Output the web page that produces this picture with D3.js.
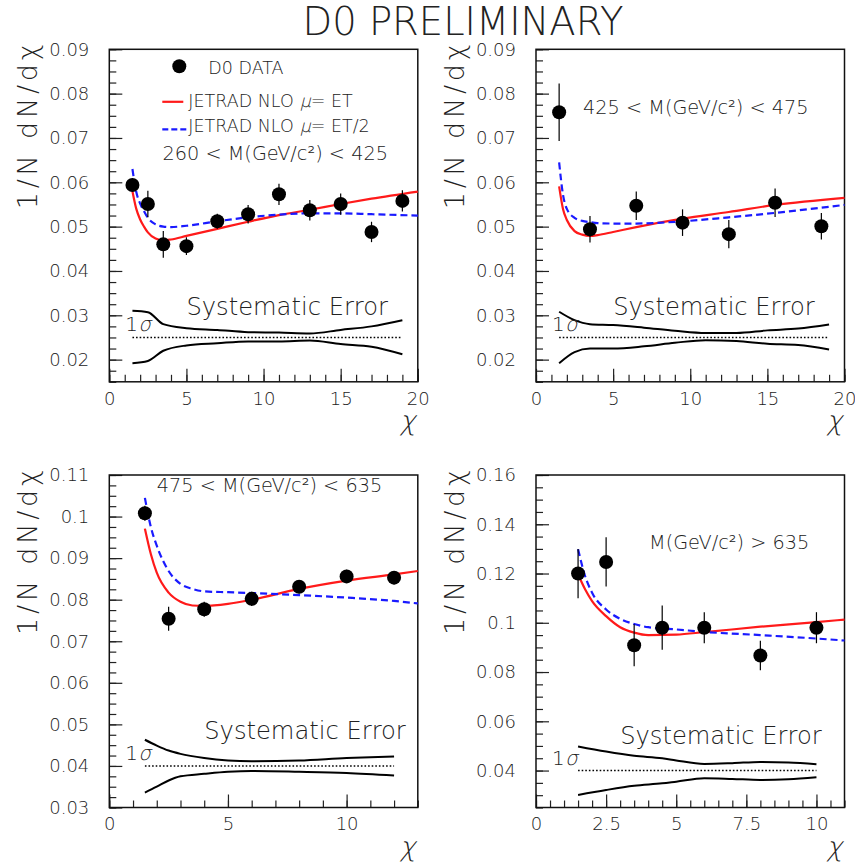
<!DOCTYPE html>
<html>
<head>
<meta charset="utf-8">
<script src="https://cdn.jsdelivr.net/npm/d3@7"></script>
<style>
  body { margin: 0; background: #fff; }
  text { font-family: "DejaVu Sans", "Liberation Sans", sans-serif; font-weight: 200; fill: #222; }
</style>
</head>
<body>
<div id="graph"></div>
<script>
// chart size
const width = 855;
const height = 867;

// ---- data: 260 < M < 425
const chi1 = [1.5, 2.5, 3.5, 5, 7, 9, 11, 13, 15, 17, 19];
const val1 = [0.0594, 0.0551, 0.0460, 0.0456, 0.0512, 0.0528, 0.0573, 0.0537, 0.0551, 0.0488, 0.0558];
const err1 = [0.0015, 0.0030, 0.0030, 0.0020, 0.0017, 0.0021, 0.0024, 0.0023, 0.0024, 0.0023, 0.0024];
const nloChi1 = [1.5, 1.75, 2, 2.25, 2.5, 3, 3.5, 4, 5, 7, 9, 11, 13, 15, 17, 20];
const nloEt1 = [0.0580, 0.0540, 0.0516, 0.0500, 0.0487, 0.0473, 0.0469, 0.0471, 0.0479, 0.0495, 0.0511, 0.0526, 0.0538, 0.0551, 0.0563, 0.0579];
const nloHalf1 = [0.0630, 0.0578, 0.0552, 0.0535, 0.0520, 0.0505, 0.0500, 0.0499, 0.0502, 0.0512, 0.0521, 0.0527, 0.0530, 0.0530, 0.0528, 0.0525];
const sysChi1 = [1.5, 2.5, 3.5, 5, 7, 9, 11, 13, 15, 17, 19];
const sysHi1 = [0.0310, 0.0307, 0.0280, 0.0271, 0.0267, 0.0262, 0.0261, 0.0259, 0.0267, 0.0275, 0.0289];
const sysLo1 = [0.0192, 0.0197, 0.0220, 0.0232, 0.0237, 0.0241, 0.0241, 0.0243, 0.0235, 0.0229, 0.0212];

// ---- data: 425 < M < 475
const chi2 = [1.5, 3.5, 6.5, 9.5, 12.5, 15.5, 18.5];
const val2 = [0.0758, 0.0494, 0.0547, 0.0509, 0.0483, 0.0554, 0.0501];
const err2 = [0.0065, 0.0030, 0.0032, 0.0030, 0.0032, 0.0032, 0.0030];
const nloChi2 = [1.5, 1.75, 2, 2.5, 3, 3.5, 4, 5, 6.5, 9.5, 12.5, 15.5, 20];
const nloEt2 = [0.0591, 0.0540, 0.0515, 0.0490, 0.0482, 0.0479, 0.0481, 0.0488, 0.0499, 0.0518, 0.0533, 0.0549, 0.0565];
const nloHalf2 = [0.0645, 0.0572, 0.0540, 0.0520, 0.0513, 0.0510, 0.0508, 0.0507, 0.0507, 0.0512, 0.0521, 0.0531, 0.0549];
const sysChi2 = [1.5, 2.5, 3.5, 5, 7, 9, 11, 13, 15, 17, 19];
const sysHi2 = [0.0308, 0.0289, 0.0280, 0.0278, 0.0272, 0.0265, 0.0260, 0.0260, 0.0266, 0.0270, 0.0279];
const sysLo2 = [0.0192, 0.0217, 0.0225, 0.0225, 0.0230, 0.0238, 0.0244, 0.0242, 0.0236, 0.0233, 0.0223];

// ---- data: 475 < M < 635
const chi3 = [1.5, 2.5, 4, 6, 8, 10, 12];
const val3 = [0.1008, 0.0754, 0.0777, 0.0802, 0.0831, 0.0856, 0.0853];
const err3 = [0.0018, 0.0029, 0.0018, 0.0017, 0.0016, 0.0016, 0.0016];
const nloChi3 = [1.5, 1.75, 2, 2.5, 3, 3.5, 4, 5, 6, 8, 10, 12, 13];
const nloEt3 = [0.0971, 0.0910, 0.0865, 0.0817, 0.0795, 0.0786, 0.0785, 0.0790, 0.0800, 0.0826, 0.0846, 0.0861, 0.0869];
const nloHalf3 = [0.1045, 0.0975, 0.0930, 0.0869, 0.0838, 0.0826, 0.0820, 0.0818, 0.0816, 0.0811, 0.0805, 0.0797, 0.0791];
const sysChi3 = [1.5, 2, 2.5, 3, 4, 5, 6, 8, 10, 12];
const sysHi3 = [0.0463, 0.0449, 0.0437, 0.0429, 0.0419, 0.0413, 0.0411, 0.0413, 0.0419, 0.0423];
const sysLo3 = [0.0336, 0.0350, 0.0365, 0.0375, 0.0381, 0.0386, 0.0388, 0.0386, 0.0383, 0.0377];

// ---- data: M > 635
const chi4 = [1.5, 2.5, 3.5, 4.5, 6, 8, 10];
const val4 = [0.1200, 0.1247, 0.0909, 0.0980, 0.0980, 0.0867, 0.0980];
const err4 = [0.0100, 0.0100, 0.0085, 0.0090, 0.0063, 0.0060, 0.0063];
const nloChi4 = [1.5, 1.75, 2, 2.5, 3, 3.5, 4, 5, 6, 8, 10, 11];
const nloEt4 = [0.1197, 0.1136, 0.1088, 0.1027, 0.0982, 0.0960, 0.0950, 0.0952, 0.0962, 0.0984, 0.1003, 0.1013];
const nloHalf4 = [0.1299, 0.1190, 0.1122, 0.1054, 0.1016, 0.0995, 0.0982, 0.0973, 0.0963, 0.0950, 0.0936, 0.0928];
const sysChi4 = [1.5, 2.5, 3.5, 4.5, 5, 6, 7, 8, 9, 10];
const sysHi4 = [0.0498, 0.0477, 0.0460, 0.0450, 0.0441, 0.0427, 0.0430, 0.0435, 0.0433, 0.0426];
const sysLo4 = [0.0301, 0.0321, 0.0338, 0.0348, 0.0355, 0.0369, 0.0366, 0.0362, 0.0365, 0.0373];

// mass bin labels and 1 sigma reference
const massLabels = ["260 < M(GeV/c²) < 425", "425 < M(GeV/c²) < 475", "475 < M(GeV/c²) < 635", "M(GeV/c²) > 635"];
const sigmaRef = [0.025, 0.025, 0.04, 0.04];

// axes per panel
const xDomains = [[0, 20], [0, 20], [0, 13], [0, 11]];
const yDomains = [[0.015, 0.09], [0.015, 0.09], [0.03, 0.11], [0.025, 0.16]];
const xMajor = [[0, 5, 10, 15, 20], [0, 5, 10, 15, 20], [0, 5, 10], [0, 2.5, 5, 7.5, 10]];
const xMinorStep = [1, 1, 1, 0.5];
const yMajor = [
    [0.02, 0.03, 0.04, 0.05, 0.06, 0.07, 0.08, 0.09],
    [0.02, 0.03, 0.04, 0.05, 0.06, 0.07, 0.08, 0.09],
    [0.03, 0.04, 0.05, 0.06, 0.07, 0.08, 0.09, 0.1, 0.11],
    [0.04, 0.06, 0.08, 0.1, 0.12, 0.14, 0.16]];
const yMinorStep = [0.0025, 0.0025, 0.0025, 0.005];

const panels = [
    {chi: chi1, val: val1, err: err1, nloChi: nloChi1, et: nloEt1, half: nloHalf1, sysChi: sysChi1, hi: sysHi1, lo: sysLo1},
    {chi: chi2, val: val2, err: err2, nloChi: nloChi2, et: nloEt2, half: nloHalf2, sysChi: sysChi2, hi: sysHi2, lo: sysLo2},
    {chi: chi3, val: val3, err: err3, nloChi: nloChi3, et: nloEt3, half: nloHalf3, sysChi: sysChi3, hi: sysHi3, lo: sysLo3},
    {chi: chi4, val: val4, err: err4, nloChi: nloChi4, et: nloEt4, half: nloHalf4, sysChi: sysChi4, hi: sysHi4, lo: sysLo4}
];

// layout (pixels)
const frames = [
    {x: 109.3, y: 49.3}, {x: 536, y: 49.3},
    {x: 109.3, y: 475}, {x: 536, y: 475}
];
const fw = 308.5, fh = 332.5;
// text anchors in data units: [chi, value]
const massPos = [[3.45, null], [3.05, 0.0755], [2.0, 0.1060], [4.03, 0.1300]];
const sysPos = [[5, 0.0300], [5, 0.0300], [4, 0.0465], [3, 0.0508]];

var svg = d3.select("#graph").append("svg")
    .attr("width", width).attr("height", height);

svg.append("text")
    .attr("x", 463).attr("y", 35)
    .attr("text-anchor", "middle")
    .style("font-size", "38.5px")
    .text("D0 PRELIMINARY");

function fmt(d) {
    return String(+d.toFixed(4));
}

// slanted glyph (the light face has no italic)
function slanted(sel, x, y, size, txt) {
    return sel.append("text")
        .attr("transform", "translate(" + x + "," + y + ") skewX(-14)")
        .style("font-size", size + "px")
        .text(txt);
}

panels.forEach(function (p, i) {
    var f = frames[i];
    var g = svg.append("g").attr("transform", "translate(" + f.x + "," + f.y + ")");
    var x = d3.scaleLinear().domain(xDomains[i]).range([0, fw]);
    var y = d3.scaleLinear().domain(yDomains[i]).range([fh, 0]);

    var xMinor = d3.range(xDomains[i][0], xDomains[i][1] + 1e-9, xMinorStep[i]);
    var yMinor = d3.range(yDomains[i][0], yDomains[i][1] + 1e-9, yMinorStep[i]);

    // minor ticks
    g.append("g").attr("transform", "translate(0," + fh + ")")
        .call(d3.axisBottom(x).tickValues(xMinor).tickSizeInner(-7).tickSizeOuter(0).tickFormat(""))
        .call(s => s.select(".domain").remove());
    g.append("g")
        .call(d3.axisLeft(y).tickValues(yMinor).tickSizeInner(-7).tickSizeOuter(0).tickFormat(""))
        .call(s => s.select(".domain").remove());

    // major ticks + labels
    var xa = g.append("g").attr("transform", "translate(0," + fh + ")")
        .call(d3.axisBottom(x).tickValues(xMajor[i]).tickSizeInner(-13).tickSizeOuter(0).tickPadding(10).tickFormat(fmt));
    var ya = g.append("g")
        .call(d3.axisLeft(y).tickValues(yMajor[i]).tickSizeInner(-13).tickSizeOuter(0).tickPadding(20).tickFormat(fmt));
    [xa, ya].forEach(function (a) {
        a.select(".domain").remove();
        a.selectAll("text").style("font-size", "18px").style("font-family", null).attr("fill", "#222");
    });
    g.selectAll(".tick line").attr("stroke", "#222").attr("stroke-width", 1.2);

    // frame
    g.append("rect").attr("width", fw).attr("height", fh)
        .attr("fill", "none").attr("stroke", "#111").attr("stroke-width", 1.5);

    // axis titles
    g.append("text")
        .attr("transform", "translate(-72,-5) rotate(-90)")
        .attr("text-anchor", "end")
        .attr("textLength", 165).attr("lengthAdjust", "spacing")
        .style("font-size", "27px")
        .text("1/N dN/dχ");
    slanted(g, fw - 18, fh + 48, 27, "χ");

    // systematic error band
    var line = d3.line().curve(d3.curveMonotoneX)
        .x(d => x(d[0])).y(d => y(d[1]));
    [p.hi, p.lo].forEach(function (arr) {
        g.append("path")
            .attr("d", line(p.sysChi.map((c, k) => [c, arr[k]])))
            .attr("fill", "none").attr("stroke", "#000").attr("stroke-width", 2);
    });
    var s0 = p.sysChi[0], s1 = p.sysChi[p.sysChi.length - 1];
    g.append("line")
        .attr("x1", x(s0)).attr("x2", x(s1))
        .attr("y1", y(sigmaRef[i])).attr("y2", y(sigmaRef[i]))
        .attr("stroke", "#000").attr("stroke-width", 1.6)
        .attr("stroke-dasharray", "1.6,2");
    g.append("text")
        .attr("x", 16).attr("y", y(sigmaRef[i]) - 6)
        .style("font-size", "20px")
        .text("1");
    slanted(g, 29, y(sigmaRef[i]) - 6, 20, "σ");
    g.append("text")
        .attr("x", x(sysPos[i][0])).attr("y", y(sysPos[i][1]))
        .style("font-size", "24.2px")
        .text("Systematic Error");

    // theory curves
    g.append("path")
        .attr("d", line(p.nloChi.map((c, k) => [c, p.et[k]])))
        .attr("fill", "none").attr("stroke", "#ff1a1a").attr("stroke-width", 2.2);
    g.append("path")
        .attr("d", line(p.nloChi.map((c, k) => [c, p.half[k]])))
        .attr("fill", "none").attr("stroke", "#1a1aff").attr("stroke-width", 2.2)
        .attr("stroke-dasharray", "7,4");

    // data points
    var pts = g.append("g").selectAll("g")
        .data(p.chi.map((c, k) => ({c: c, v: p.val[k], e: p.err[k]})))
        .enter().append("g");
    pts.append("line")
        .attr("x1", d => x(d.c)).attr("x2", d => x(d.c))
        .attr("y1", d => y(d.v - d.e)).attr("y2", d => y(d.v + d.e))
        .attr("stroke", "#000").attr("stroke-width", 1.2);
    pts.append("circle")
        .attr("cx", d => x(d.c)).attr("cy", d => y(d.v))
        .attr("r", 7).attr("fill", "#000");

    // mass label
    var my = massPos[i][1] === null ? 111 : y(massPos[i][1]);
    g.append("text")
        .attr("x", x(massPos[i][0])).attr("y", my)
        .style("font-size", "19.3px")
        .text(massLabels[i]);

    // legend in first panel
    if (i === 0) {
        var lg = g.append("g");
        lg.append("circle").attr("cx", 70).attr("cy", 17).attr("r", 7).attr("fill", "#000");
        lg.append("text").attr("x", 99).attr("y", 25).style("font-size", "17.5px").text("D0 DATA");
        lg.append("line").attr("x1", 53).attr("x2", 74).attr("y1", 52.5).attr("y2", 52.5)
            .attr("stroke", "#ff1a1a").attr("stroke-width", 2.2);
        lg.append("line").attr("x1", 53).attr("x2", 77).attr("y1", 80).attr("y2", 80)
            .attr("stroke", "#1a1aff").attr("stroke-width", 2.2).attr("stroke-dasharray", "6,3");
        [[57.5, "= ET"], [82.5, "= ET/2"]].forEach(function (r) {
            var t = lg.append("text").attr("x", 79).attr("y", r[0])
                .style("font-size", "17.5px").text("JETRAD NLO");
            var w = t.node().getComputedTextLength() + 6;
            slanted(lg, 79 + w, r[0], 17.5, "μ");
            lg.append("text").attr("x", 79 + w + 11).attr("y", r[0])
                .style("font-size", "17.5px").text(r[1]);
        });
    }
});
</script>
</body>
</html>
